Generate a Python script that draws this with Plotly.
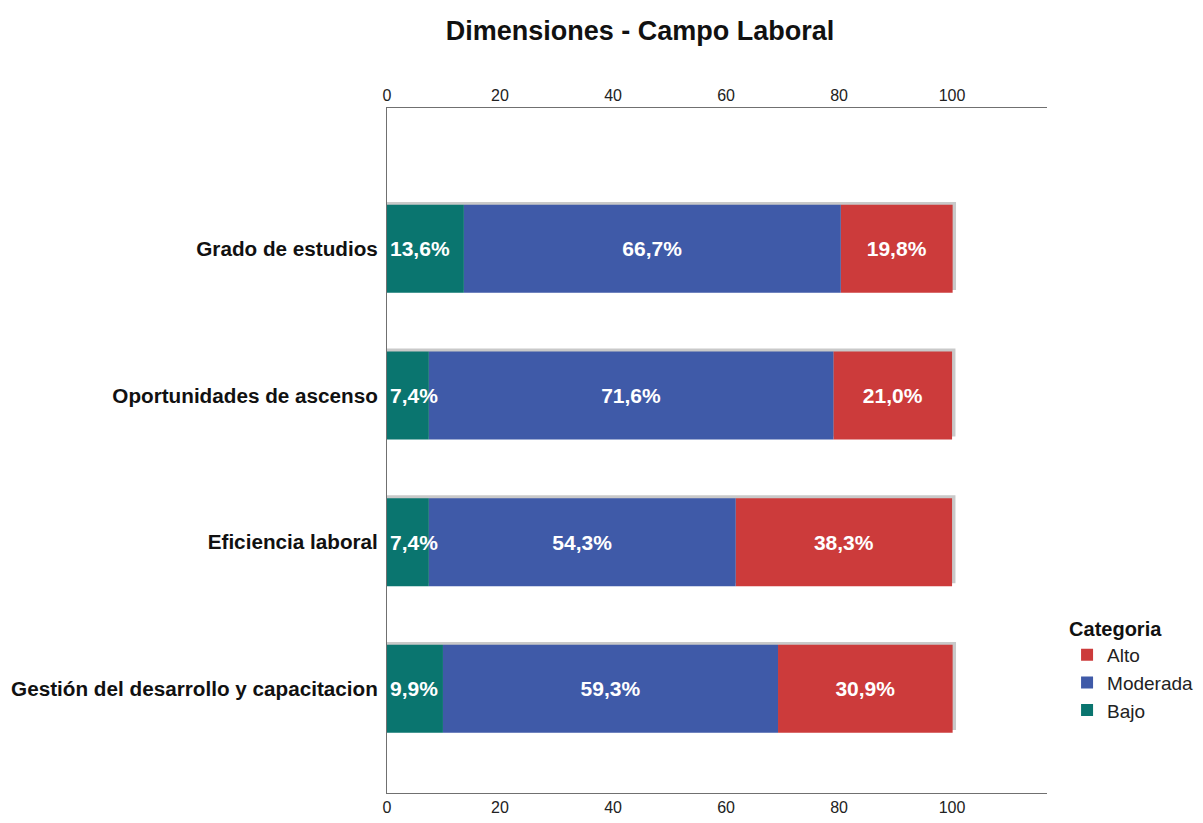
import plotly.graph_objects as go

categories = ["Grado de estudios", "Oportunidades de ascenso", "Eficiencia laboral",
              "Gestión del desarrollo y capacitacion"]
bajo = [13.6, 7.4, 7.4, 9.9]
moderada = [66.7, 71.6, 54.3, 59.3]
alto = [19.8, 21.0, 38.3, 30.9]
x_ticks = [0, 20, 40, 60, 80, 100]

C_BAJO = "#0A756F"
C_MOD = "#3F5AA8"
C_ALTO = "#CC3B3B"
FONT = "Liberation Sans, Arial, sans-serif"

ypos = list(range(len(categories)))
base_mod = bajo
base_alto = [b + m for b, m in zip(bajo, moderada)]
totals = [b + m + a for b, m, a in zip(bajo, moderada, alto)]

def fmt(v):
    return f"{v:.1f}".replace(".", ",") + "%"

fig = go.Figure()

# soft shadow behind each full bar
fig.add_trace(go.Bar(
    y=ypos, x=[t + 0.6 for t in totals], base=[0] * len(totals), orientation="h",
    width=0.6, offset=-0.32, marker=dict(color="#C9C9C9", line=dict(width=0)),
    showlegend=False, hoverinfo="skip"))

# drawn Alto, Moderada, then Bajo last so its (overflowing) labels stay on top
for name, vals, base, col, anchor, rank in [
        ("Alto", alto, base_alto, C_ALTO, "middle", 1),
        ("Moderada", moderada, base_mod, C_MOD, "middle", 2),
        ("Bajo", bajo, [0] * 4, C_BAJO, "start", 3)]:
    fig.add_trace(go.Bar(
        name=name, y=ypos, x=vals, base=base, orientation="h", width=0.6,
        marker=dict(color=col, line=dict(width=0)), legendrank=rank,
        text=[fmt(v) for v in vals], textposition="inside", insidetextanchor=anchor,
        constraintext="none", textangle=0,
        textfont=dict(family=FONT, size=21, color="white", weight="bold"),
    ))

fig.add_trace(go.Bar(x=[None], y=[None], xaxis="x2", showlegend=False, hoverinfo="skip"))

axis_common = dict(range=[0, 116.8], tickvals=x_ticks, showgrid=False, zeroline=False,
                   showline=True, linecolor="#707070", linewidth=1, ticks="",
                   automargin=False,
                   tickfont=dict(family=FONT, size=16, color="#222222"))

fig.update_layout(
    width=1203, height=823,
    barmode="overlay",
    paper_bgcolor="white", plot_bgcolor="white",
    margin=dict(l=387, r=156, t=108, b=30, autoexpand=False),
    title=dict(text="<b>Dimensiones - Campo Laboral</b>", x=0.532, xanchor="center",
               y=0.963, yanchor="middle",
               font=dict(family=FONT, size=27, color="#111111")),
    xaxis=dict(**axis_common, side="bottom"),
    xaxis2=dict(**axis_common, side="top", overlaying="x", matches="x"),
    yaxis=dict(tickvals=ypos, ticktext=[f"<b>{c}</b>" for c in categories],
               range=[3.71, -0.96], showgrid=False, zeroline=False, automargin=False,
               showline=True, linecolor="#707070", linewidth=1,
               ticks="outside", ticklen=4, tickcolor="white",
               tickfont=dict(family=FONT, size=20.7, color="#111111")),
    legend=dict(title=dict(text="<b>Categoria</b>", font=dict(family=FONT, size=20, color="#111111")),
                traceorder="normal", xref="container", yref="container",
                x=0.887, xanchor="left", y=0.259, yanchor="top",
                font=dict(family=FONT, size=19, color="#222222"),
                bgcolor="rgba(0,0,0,0)", itemwidth=30, tracegroupgap=0),
    showlegend=True,
)

fig.write_html("out.html", config={"displayModeBar": False},
               post_script="document.body.style.margin='0';")
